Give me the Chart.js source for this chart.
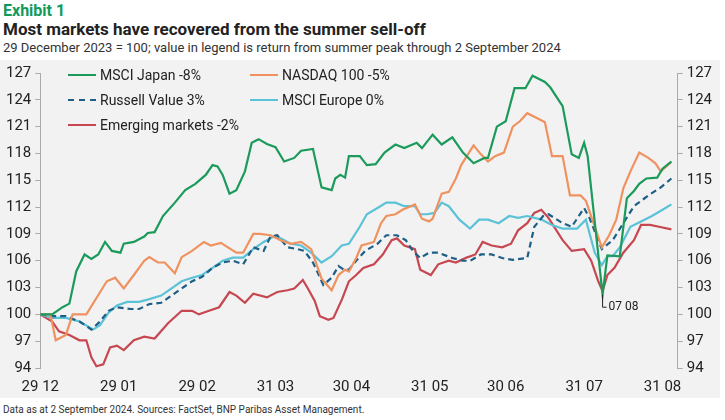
<!DOCTYPE html>
<html>
<head>
<meta charset="utf-8">
<script src="https://cdn.jsdelivr.net/npm/chart.js@4"></script>
<style>
  body { margin: 0; width: 725px; height: 420px; background: #fff; font-family: "Liberation Sans Narrow", Roboto, sans-serif; overflow: hidden; position: relative; }
  #ex { position: absolute; left: 3px; top: 1px; font: bold 16px "Liberation Sans Narrow", Roboto, sans-serif; color: #0f9a5c; }
  #title { position: absolute; left: 3px; top: 19px; font: bold 17px "Liberation Sans Narrow", Roboto, sans-serif; color: #222; }
  #sub { position: absolute; left: 3px; top: 40px; font: 13px "Liberation Sans Narrow", Roboto, sans-serif; color: #333; }
  #box { position: absolute; left: 0; top: 60px; width: 720px; height: 338px; background: #f2f2f2; }
  #foot { position: absolute; left: 3px; top: 404px; font: 10px "Liberation Sans Narrow", Roboto, sans-serif; color: #333; }
  #legend { position: absolute; left: 68px; top: 67px; font: 14px "Liberation Sans Narrow", Roboto, sans-serif; color: #222; }
  .it { position: absolute; white-space: nowrap; display: flex; align-items: center; }
  .ln { width: 28px; height: 0; border-top: 2.5px solid; margin-right: 4px; }
</style>
</head>
<body>
<div id="ex">Exhibit 1</div>
<div id="title">Most markets have recovered from the summer sell-off</div>
<div id="sub">29 December 2023 = 100; value in legend is return from summer peak through 2 September 2024</div>
<div id="box"><canvas id="c" width="720" height="338"></canvas></div>
<div id="legend"></div>
<div id="foot">Data as at 2 September  2024. Sources: FactSet, BNP Paribas Asset Management.</div>
<script>
// days since 29 Dec 2023
const tickDays = [0, 31, 62, 93, 123, 154, 184, 215, 246];
const tickLabels = ["29 12", "29 01", "29 02", "31 03", "30 04", "31 05", "30 06", "31 07", "31 08"];
const yTicks = [94, 97, 100, 103, 106, 109, 112, 115, 118, 121, 124, 127];

const japanDays = [0, 4.7, 8.8, 11.5, 14.2, 17.5, 20.2, 22.9, 25.6, 28.3, 31.7, 33, 37, 41.1, 42.5, 45.2, 48.5, 53.2, 57.3, 61.3, 65.4, 68.1, 70.1, 72.1, 74.8, 77.5, 80.9, 83.6, 86.3, 89.6, 93, 96.4, 100.4, 103.1, 107.8, 111.2, 115.2, 116.6, 118.6, 120.5,
  122, 126.3, 129.1, 132.6, 136.1, 140.4, 143.9, 148.8, 150.9, 155.1, 158.7, 162.9, 167.1, 171.3, 175.6, 177, 180.5, 184, 187.5, 191.8, 194.6, 199.5, 201.6, 206.5, 210.1, 212.9, 215, 216.4, 222.3, 224.2, 229.1, 231.9, 234.7, 236.8, 239.6, 243.9, 246, 249.5];
const japan = [100, 100, 100.8, 101.2, 104.8, 106.7, 106.2, 106.7, 108.1, 107.1, 106.9, 107.9, 108.1, 108.7, 109.1, 109.2, 111.0, 112.5, 113.9, 114.6, 115.6, 116.7, 116.55, 115.6, 113.5, 113.9, 116.0, 119.2, 119.6, 119.05, 118.7, 117.1, 117.5, 118.3, 118.5, 114.2, 113.9, 115.2, 115.6, 115.3,
  117.7, 117.7, 116.7, 116.8, 118.1, 119.0, 118.6, 119.2, 118.6, 120.1, 119.0, 119.8, 118.1, 116.9, 117.5, 117.5, 121.0, 121.6, 125.3, 125.3, 126.7, 126.0, 125.4, 123.3, 117.9, 117.5, 119.2, 117.7, 102.2, 106.6, 106.5, 113.0, 113.8, 114.6, 115.2, 115.3, 116.3, 117.1];

const nasdaqDays = [0, 4, 6.1, 10.1, 12.8, 18.2, 26.3, 29.6, 33, 37, 41.1, 43.1, 46.5, 49.2, 53.2, 55.9, 60, 64.7, 67.4, 71.4, 77.5, 80.2, 84.2, 86.9, 91, 95, 99, 103.1, 107.1, 111.2, 115.2, 117.9, 120.5,
  122, 124.9, 127, 131.9, 134.7, 136.8, 140.4, 143.2, 148.1, 150.9, 153.7, 155.1, 158.7, 161.5, 164.3, 166.4, 171.3, 174.2, 177, 179.8, 183.3, 186.8, 189.6, 192.5, 196.7, 199.5, 202.3, 206.5, 209.4, 213.6, 215.7, 222, 224.9, 227.7, 230.5, 233.3, 236.8, 240.4, 243.2, 245.3, 249.5];
const nasdaq = [100, 100, 97.1, 97.7, 100, 100, 103.7, 104.1, 102.9, 104.4, 106.0, 106.4, 105.8, 105.8, 104.6, 106.4, 107.1, 108.1, 107.7, 108.0, 106.9, 106.9, 109.0, 109.0, 108.85, 108.3, 107.9, 108.1, 107.3, 104.0, 102.7, 104.4, 105.0,
  104.8, 106.3, 107.7, 108.1, 110.2, 111.0, 111.2, 111.7, 112.3, 110.7, 110.4, 110.7, 113.5, 113.7, 115.2, 116.7, 118.9, 117.9, 117.1, 117.7, 118.1, 121.0, 121.6, 122.5, 121.9, 121.5, 117.7, 117.7, 113.3, 113.3, 112.7, 107.5, 108.85, 110.6, 114.1, 116.0, 118.1, 117.5, 116.9, 116.0, 117.05];

const russellDays = [0, 4.7, 10.1, 15.5, 20.2, 23.6, 27, 30.3, 35.7, 39.1, 43.1, 47.8, 51.9, 55.9, 60, 64, 68.1, 72.1, 76.1, 80.2, 84.2, 88.3, 91, 93.7, 97.7, 101.7, 104.4, 107.8, 111.9, 115.2, 117.9, 120,
  122, 124.9, 128.4, 133.3, 136.8, 141, 144.5, 147.3, 150.2, 153.7, 157.3, 162.9, 167.1, 170, 174.2, 178.4, 182.6, 186.8, 192.5, 195.3, 198.8, 200.9, 206.5, 210.1, 215, 217.1, 222, 226.3, 230.5, 234.7, 240.4, 245.3, 249.5];
const russell = [100, 99.8, 99.8, 99.2, 98.3, 99.2, 100.4, 100.8, 100.6, 100.6, 101.15, 101.3, 102.1, 102.9, 103.7, 104.2, 105.2, 105.8, 106.0, 105.6, 107.5, 107.1, 108.7, 108.85, 107.5, 107.3, 107.1, 105.8, 103.3, 104.1, 105.4, 105.0,
  105.0, 106.0, 107.1, 107.9, 108.85, 108.85, 108.3, 107.1, 106.3, 106.9, 106.9, 106.3, 106.0, 106.0, 106.7, 106.7, 106.3, 106.1, 106.3, 109.8, 111.0, 111.2, 110.2, 109.8, 111.9, 110.8, 107.3, 108.3, 110.2, 112.1, 113.3, 114.2, 115.2];

const europeDays = [0, 4.7, 10.1, 15.5, 20.9, 23.6, 27, 30.3, 34.4, 39.1, 43.1, 47.8, 51.9, 55.9, 60, 64, 68.1, 72.1, 76.1, 80.2, 84.2, 88.3, 92.3, 95, 99, 103.1, 107.1, 111.2, 115.2, 119.2,
  122, 126.3, 129.1, 133.3, 136.8, 140.4, 143.9, 148.1, 150.2, 153, 155.8, 158.7, 161.5, 165.7, 169.9, 173.5, 177, 181.2, 185.4, 188.9, 192.5, 198.1, 202.3, 206.5, 212.2, 215.7, 219.2, 222, 224.2, 226.3, 229.1, 233.3, 237.5, 241.8, 246, 249.5];
const europe = [100, 99.6, 99.6, 99.2, 98.3, 98.8, 100.2, 101.0, 101.4, 101.4, 101.7, 102.1, 102.9, 103.7, 104.1, 104.4, 105.2, 106.0, 106.35, 106.35, 107.3, 108.1, 108.7, 108.5, 107.9, 107.7, 106.9, 105.8, 106.5, 107.7,
  107.9, 109.8, 111.2, 111.9, 112.5, 112.5, 112.1, 112.1, 111.2, 111.2, 111.35, 112.5, 112.1, 110.6, 109.6, 110.6, 110.6, 110.2, 111.0, 110.8, 111.0, 110.6, 110.0, 109.6, 109.6, 110.6, 106.9, 105.5, 106.5, 106.5, 107.5, 109.8, 110.4, 111.0, 111.7, 112.3];

const emDays = [0, 4.7, 7.4, 11.5, 15.5, 18.2, 20.2, 22.2, 24.9, 27.6, 30.3, 33, 37, 41.1, 45.2, 50.5, 55.9, 60, 62.7, 66.7, 70.7, 74.8, 77.5, 80.9, 84.2, 89.6, 93.7, 97.7, 100.4, 103.8, 105.8, 108.5, 110.5, 113.9, 115.9, 119.3,
  122, 124.9, 127.7, 131.9, 135.4, 138.9, 141, 143.9, 148.1, 150.2, 154.4, 157.3, 161.5, 164.3, 168.5, 172, 174.9, 178.4, 182.6, 186.1, 188.9, 192.5, 195.3, 198.1, 200.9, 206.5, 210.1, 215, 217.8, 220.6, 222.3, 224.2, 227, 230.5, 234.7, 237.5, 241.1, 244.6, 249.5];
const em = [100, 99.2, 98.1, 97.7, 97.1, 97.1, 95.2, 94.2, 94.4, 96.3, 96.5, 96.0, 97.1, 97.5, 97.3, 99.0, 100.4, 100.4, 100.0, 100.4, 100.8, 102.5, 102.1, 101.3, 102.3, 101.9, 102.5, 102.7, 102.9, 103.85, 102.9, 101.5, 99.8, 99.4, 99.6, 101.7,
  103.7, 104.4, 105.2, 105.6, 106.7, 108.3, 108.5, 107.7, 107.3, 105.0, 104.4, 105.6, 106.0, 105.8, 106.35, 106.7, 108.1, 107.7, 107.5, 107.9, 109.4, 110.2, 111.35, 111.7, 110.8, 108.3, 107.1, 107.3, 106.0, 103.7, 102.6, 104.4, 105.2, 106.9, 108.3, 110.0, 110.0, 109.8, 109.5];

const names = ["MSCI Japan -8%", "NASDAQ 100 -5%", "Russell Value 3%", "MSCI Europe 0%", "Emerging markets -2%"];
const colors = ["#1c9a5b", "#f0925f", "#1d5f86", "#5cc2d7", "#c64750"];
const series = [[japanDays, japan], [nasdaqDays, nasdaq], [russellDays, russell], [europeDays, europe], [emDays, em]];

const datasets = series.map((s, i) => ({
  label: names[i],
  data: s[0].map((d, j) => ({ x: d, y: s[1][j] })),
  borderColor: colors[i],
  borderWidth: 2.2,
  borderDash: i === 2 ? [6, 4] : [],
  pointRadius: 0,
  tension: 0,
  order: i
}));

// legend as html
const legPos = [[0, 0], [182, 0], [0, 25], [182, 25], [0, 50]];
const leg = document.getElementById("legend");
names.forEach((n, i) => {
  const el = document.createElement("div");
  el.className = "it";
  el.style.left = legPos[i][0] + "px";
  el.style.top = legPos[i][1] + "px";
  const ln = document.createElement("span");
  ln.className = "ln";
  ln.style.borderTopColor = colors[i];
  if (i === 2) ln.style.borderTopStyle = "dashed";
  el.appendChild(ln);
  el.appendChild(document.createTextNode(n));
  leg.appendChild(el);
});

const annot = {
  id: "annot",
  afterDatasetsDraw(chart) {
    const ctx = chart.ctx;
    const x = chart.scales.x.getPixelForValue(222.3);
    const y1 = chart.scales.y.getPixelForValue(102.2);
    const y2 = chart.scales.y.getPixelForValue(100.8);
    ctx.save();
    ctx.strokeStyle = "#222";
    ctx.lineWidth = 1;
    ctx.beginPath();
    ctx.moveTo(x, y1);
    ctx.lineTo(x, y2);
    ctx.lineTo(x + 4, y2);
    ctx.stroke();
    ctx.fillStyle = "#222";
    ctx.font = "12px 'Liberation Sans Narrow', Roboto, sans-serif";
    ctx.textBaseline = "middle";
    ctx.fillText("07 08", x + 6, y2);
    ctx.restore();
  }
};

const yAxis = (pos) => ({
  position: pos,
  min: 94, max: 127,
  afterBuildTicks: (ax) => { ax.ticks = yTicks.map(v => ({ value: v })); },
  border: { display: true, color: "#aaa" },
  grid: { drawOnChartArea: false, drawTicks: true, tickLength: 5, color: "#aaa" },
  ticks: { color: "#222", font: { size: 15, family: "'Liberation Sans Narrow', Roboto, sans-serif" }, padding: 4 }
});

new Chart(document.getElementById("c"), {
  type: "line",
  data: { datasets },
  options: {
    responsive: false,
    animation: false,
    layout: { padding: { top: 12, right: 4, left: 2, bottom: 0 } },
    plugins: { legend: { display: false }, tooltip: { enabled: false } },
    scales: {
      x: {
        type: "linear",
        min: 0, max: 252,
        afterBuildTicks: (ax) => { ax.ticks = tickDays.map(v => ({ value: v })); },
        border: { display: false },
        grid: { display: false },
        ticks: {
          color: "#222",
          font: { size: 15, family: "'Liberation Sans Narrow', Roboto, sans-serif" },
          maxRotation: 0,
          autoSkip: false,
          padding: 2,
          callback: (v) => tickLabels[tickDays.indexOf(v)]
        }
      },
      y: yAxis("left"),
      y2: yAxis("right")
    }
  },
  plugins: [annot]
});
</script>
</body>
</html>
